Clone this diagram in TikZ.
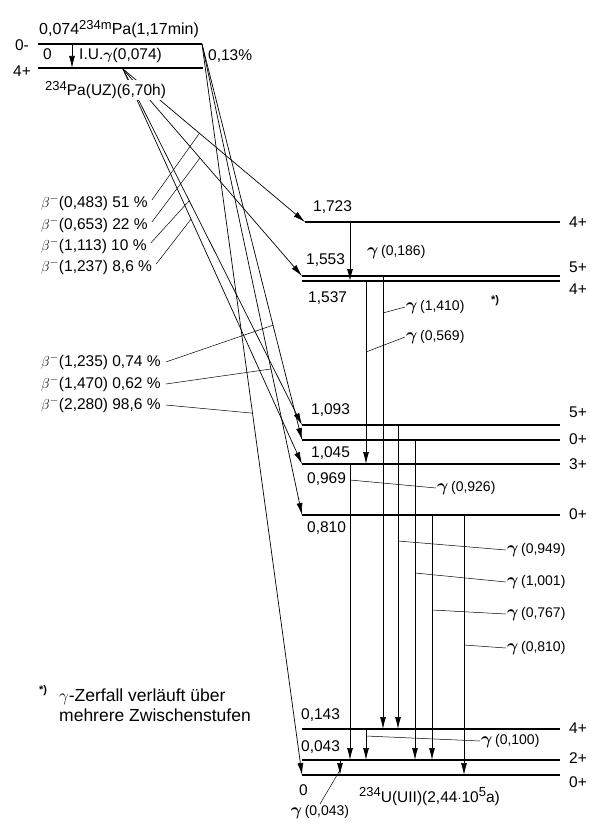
\documentclass[tikz,border=0pt]{standalone}
\usepackage{amsmath}
\usepackage{fontspec}
\setmainfont{Liberation Sans}
\usetikzlibrary{arrows.meta,calc}
\tikzset{tip/.style={-{Latex[length=12pt,width=6pt]}},
  lvl/.style={line width=1.4pt},
  thk/.style={line width=2.8pt},
  bet/.style={line width=0.7pt, tip},
  gam/.style={line width=0.7pt, tip},
  ldr/.style={line width=0.5pt},
  lbl/.style={inner sep=1pt}}
\newcommand{\isot}[1]{\raisebox{5.5pt}{\fontsize{13}{13}\selectfont #1}}
\newcommand{\gtxt}[1]{{\fontsize{17}{17}\selectfont$\boldsymbol{\gamma}$}\,{\fontsize{14}{16}\selectfont(#1)}}

\begin{document}
\begin{tikzpicture}[x=1pt, y=-1pt, font=\fontsize{15.5}{18}\selectfont]
  \useasboundingbox (0,0) rectangle (590,824);
  % Pa levels
  \coordinate (pm) at (38,44);
  \coordinate (pmc) at (202,44);
  \coordinate (pz) at (38,68);
  \coordinate (pze) at (203,68);
  \coordinate (pa) at (123,69);
  \coordinate (iua) at (72,44);
  % U levels
  \coordinate (E) at (560,0);
  \coordinate (l1723) at (305,222);
  \coordinate (l1553) at (302,276);
  \coordinate (l1537) at (302,281);
  \coordinate (l1093) at (302,425);
  \coordinate (l1045) at (302,440);
  \coordinate (l969) at (302,464);
  \coordinate (l810) at (302,515);
  \coordinate (l143) at (302,729);
  \coordinate (l43) at (302,760);
  \coordinate (l0) at (302,775);
  % beta branches
  \draw[bet] (pa) -- (l1723);
  \draw[bet] (pa) -- (l1553);
  \draw[bet] (pa) -- (l1093);
  \draw[bet] (pa) -- (l969);
  \draw[bet] (pmc) -- (l1045);
  \draw[bet] (pmc) -- (l810);
  \draw[bet] (pmc) -- (l0);
  % levels
  \draw[lvl] (pm) -- (pmc);
  \draw[thk] (pz) -- (pze);
  \foreach \l in {l1723,l1553,l1537,l1093,l1045,l969,l810,l143,l43}
    \draw[lvl] (\l) -- (\l -| E);
  \draw[thk] (l0) -- (l0 -| E);
  \draw[gam] (iua) -- (iua |- pz);
  % Pa texts
  \node[lbl, anchor=base west, font=\fontsize{16}{18}\selectfont] (pmt) at (38,35) {0,074\isot{234m}Pa(1,17min)};
  \node[lbl] (spm) at (22,45) {0-};
  \node[lbl] (spz) at (22,71) {4+};
  \node[lbl, anchor=base west] (e74) at (42,60) {0};
  \node[lbl, anchor=base west] (iu) at (78,60) {I.U.$\boldsymbol{\gamma}$(0,074)};
  \node[lbl, anchor=base west] (br) at (207,61) {0,13\%};
  \node[lbl, anchor=base west, fill=white] (pzt) at (44,96) {\isot{234}Pa(UZ)(6,70h)};
  % beta labels
  \node[lbl, anchor=west] (b483) at (40,203) {$\beta^-$(0,483) 51 \%};
  \node[lbl, anchor=west] (b653) at (40,225) {$\beta^-$(0,653) 22 \%};
  \node[lbl, anchor=west] (b1113) at (40,246) {$\beta^-$(1,113) 10 \%};
  \node[lbl, anchor=west] (b1237) at (40,267) {$\beta^-$(1,237) 8,6 \%};
  \node[lbl, anchor=west] (b1235) at (40,362) {$\beta^-$(1,235) 0,74 \%};
  \node[lbl, anchor=west] (b1470) at (40,384) {$\beta^-$(1,470) 0,62 \%};
  \node[lbl, anchor=west] (b2280) at (40,405) {$\beta^-$(2,280) 98,6 \%};
  \draw[ldr] ($(b483.east)+(3,-3)$) -- ($(pa)!0.42!(l1723)$);
  \draw[ldr] ($(b653.east)+(3,-3)$) -- ($(pa)!0.43!(l1553)$);
  \draw[ldr] ($(b1113.east)+(3,-3)$) -- ($(pa)!0.37!(l1093)$);
  \draw[ldr] ($(b1237.east)+(3,-3)$) -- ($(pa)!0.38!(l969)$);
  \draw[ldr] ($(b1235.east)+(4,0)$) -- ($(pmc)!0.71!(l1045)$);
  \draw[ldr] ($(b1470.east)+(4,0)$) -- ($(pmc)!0.69!(l810)$);
  \draw[ldr] ($(b2280.east)+(4,0)$) -- ($(pmc)!0.505!(l0)$);
  % level energies
  \node[lbl, anchor=west] (e1723) at (312,207) {1,723};
  \node[lbl, anchor=west] (e1553) at (305,260) {1,553};
  \node[lbl, anchor=west] (e1537) at (307,298) {1,537};
  \node[lbl, anchor=west] (e1093) at (310,410) {1,093};
  \node[lbl, anchor=west] (e1045) at (310,453) {1,045};
  \node[lbl, anchor=west] (e969) at (306,479) {0,969};
  \node[lbl, anchor=west] (e810) at (306,528) {0,810};
  \node[lbl, anchor=west] (e143) at (300,715) {0,143};
  \node[lbl, anchor=west] (e43) at (300,747) {0,043};
  \node[lbl, anchor=base west] (e0) at (298,795) {0};
  \node[lbl, anchor=base west] (ut) at (358,802) {\isot{234}U(UII)(2,44$\cdot$10\isot{5}a)};
  % spins
  \node[lbl, anchor=west] (s1723) at (568,222) {4+};
  \node[lbl, anchor=west] (s1553) at (568,267) {5+};
  \node[lbl, anchor=west] (s1537) at (568,289) {4+};
  \node[lbl, anchor=west] (s1093) at (568,412) {5+};
  \node[lbl, anchor=west] (s1045) at (568,439) {0+};
  \node[lbl, anchor=west] (s969) at (568,464) {3+};
  \node[lbl, anchor=west] (s810) at (568,514) {0+};
  \node[lbl, anchor=west] (s143) at (568,728) {4+};
  \node[lbl, anchor=west] (s43) at (568,758) {2+};
  \node[lbl, anchor=west] (s0) at (568,782) {0+};
  % gamma transitions
  \coordinate (g186) at (350,222);
  \coordinate (g1410) at (383,276);
  \coordinate (g569) at (366,281);
  \coordinate (g949) at (398,425);
  \coordinate (g1001) at (415,440);
  \coordinate (g926) at (350,464);
  \coordinate (g767) at (432,515);
  \coordinate (g810) at (464,515);
  \coordinate (g100) at (366,729);
  \coordinate (g043) at (340,760);
  \draw[gam] (g186) -- (g186 |- l1537);
  \draw[gam] (g1410) -- (g1410 |- l143);
  \draw[gam] (g569) -- (g569 |- l969);
  \draw[gam] (g949) -- (g949 |- l143);
  \draw[gam] (g1001) -- (g1001 |- l43);
  \draw[gam] (g926) -- (g926 |- l43);
  \draw[gam] (g767) -- (g767 |- l43);
  \draw[gam] (g810) -- (g810 |- l0);
  \draw[gam] (g100) -- (g100 |- l43);
  \draw[gam] (g043) -- (g043 |- l0);
  % gamma labels
  \node[lbl, anchor=west] (t186) at (366,252) {\gtxt{0,186}};
  \node[lbl, anchor=west] (t1410) at (405,307) {\gtxt{1,410}};
  \node[lbl, anchor=west, font=\bfseries\fontsize{11}{11}\selectfont] (ast) at (490,301) {*)};
  \node[lbl, anchor=west] (t569) at (405,337) {\gtxt{0,569}};
  \node[lbl, anchor=west] (t926) at (436,488) {\gtxt{0,926}};
  \node[lbl, anchor=west] (t949) at (506,550) {\gtxt{0,949}};
  \node[lbl, anchor=west] (t1001) at (506,582) {\gtxt{1,001}};
  \node[lbl, anchor=west] (t767) at (506,614) {\gtxt{0,767}};
  \node[lbl, anchor=west] (t810) at (506,648) {\gtxt{0,810}};
  \node[lbl, anchor=west] (t100) at (480,741) {\gtxt{0,100}};
  \node[lbl] (t043) at (320,812) {\gtxt{0,043}};
  \draw[ldr] ($(g1410)+(0,37)$) -- (t1410.west);
  \draw[ldr] ($(g569)+(0,71)$) -- (t569.west);
  \draw[ldr] ($(g926)+(0,16)$) -- (t926.west);
  \draw[ldr] ($(g949)+(0,116)$) -- (t949.west);
  \draw[ldr] ($(g1001)+(0,133)$) -- (t1001.west);
  \draw[ldr] ($(g767)+(0,95)$) -- (t767.west);
  \draw[ldr] ($(g810)+(0,130)$) -- (t810.west);
  \draw[ldr] ($(g100)+(0,7)$) -- (t100.west);
  \draw[ldr] ($(g043)+(0,10)$) -- (t043.north);
  % footnote
  \node[lbl, anchor=base west, font=\bfseries\fontsize{11}{11}\selectfont] (fst) at (38,693) {*)};
  \node[lbl, anchor=north west, align=left, font=\fontsize{17.5}{20}\selectfont] (foot) at (58,688) {$\gamma$-Zerfall verläuft über\\mehrere Zwischenstufen};
\end{tikzpicture}
\end{document}
